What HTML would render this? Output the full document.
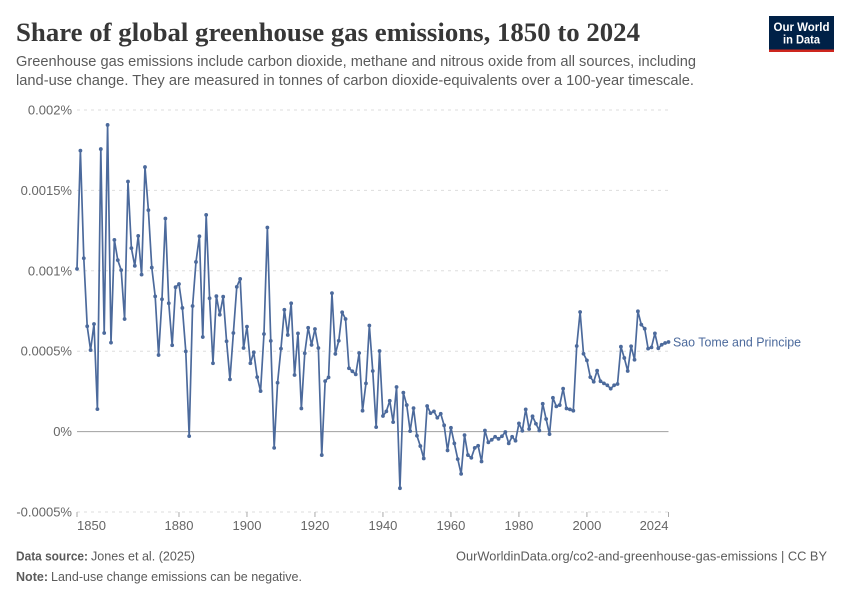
<!DOCTYPE html>
<html lang="en">
<head>
<meta charset="utf-8">
<title>Share of global greenhouse gas emissions, 1850 to 2024</title>
<style>
html,body{margin:0;padding:0;background:#fff;}
svg{display:block;font-family:"Liberation Sans",sans-serif;}
</style>
</head>
<body>
<svg id="chart" xmlns="http://www.w3.org/2000/svg" width="850" height="600" viewBox="0 0 850 600">
  <rect x="0" y="0" width="850" height="600" fill="#fff"/>
  <text x="16" y="41" font-family="'Liberation Serif',serif" font-weight="700" font-size="26" fill="#373737" textLength="624" lengthAdjust="spacingAndGlyphs">Share of global greenhouse gas emissions, 1850 to 2024</text>
  <text x="16" y="66" font-size="14.5" fill="#5b5b5b" textLength="680" lengthAdjust="spacingAndGlyphs">Greenhouse gas emissions include carbon dioxide, methane and nitrous oxide from all sources, including</text>
  <text x="16" y="85" font-size="14.5" fill="#5b5b5b" textLength="678" lengthAdjust="spacingAndGlyphs">land-use change. They are measured in tonnes of carbon dioxide-equivalents over a 100-year timescale.</text>

  <g>
    <rect x="769" y="16" width="65" height="36" fill="#002147"/>
    <rect x="769" y="49.5" width="65" height="2.5" fill="#ce261e"/>
    <text x="801.5" y="31" text-anchor="middle" font-size="12" font-weight="700" fill="#fff" textLength="56" lengthAdjust="spacingAndGlyphs">Our World</text>
    <text x="801.5" y="43.5" text-anchor="middle" font-size="12" font-weight="700" fill="#fff" textLength="37" lengthAdjust="spacingAndGlyphs">in Data</text>
  </g>

  <g id="grid"></g>
  <g id="yLabels"></g>
  <g id="xAxis"></g>
  <g id="series"></g>
  <text id="seriesLabel" x="673" y="347" font-size="13" fill="#4c6a9c" textLength="128" lengthAdjust="spacingAndGlyphs">Sao Tome and Principe</text>

  <text x="16" y="560.5" font-size="13" font-weight="700" fill="#5b5b5b" textLength="72" lengthAdjust="spacingAndGlyphs">Data source:</text>
  <text x="91" y="560.5" font-size="13" fill="#5b5b5b" textLength="104" lengthAdjust="spacingAndGlyphs">Jones et al. (2025)</text>
  <text x="456" y="560.5" font-size="13" fill="#5b5b5b" textLength="371" lengthAdjust="spacingAndGlyphs">OurWorldinData.org/co2-and-greenhouse-gas-emissions | CC BY</text>
  <text x="16" y="581" font-size="13" font-weight="700" fill="#5b5b5b" textLength="32" lengthAdjust="spacingAndGlyphs">Note:</text>
  <text x="51" y="581" font-size="13" fill="#5b5b5b" textLength="251" lengthAdjust="spacingAndGlyphs">Land-use change emissions can be negative.</text>
</svg>
<script>
const firstYear = 1850;
const seriesName = "Sao Tome and Principe";
const shareValues = [
0.001012,0.001747,0.001078,0.000655,0.000507,0.000669,0.000140,0.001757,0.000613,0.001907,
0.000553,0.001192,0.001066,0.001004,0.000700,0.001555,0.001141,0.001031,0.001217,0.000976,
0.001645,0.001377,0.001020,0.000841,0.000476,0.000823,0.001325,0.000798,0.000537,0.000898,
0.000918,0.000769,0.000499,-0.000028,0.000781,0.001055,0.001215,0.000588,0.001348,0.000829,
0.000425,0.000842,0.000727,0.000839,0.000562,0.000325,0.000613,0.000900,0.000950,0.000520,
0.000653,0.000425,0.000493,0.000339,0.000252,0.000607,0.001269,0.000564,-0.000101,0.000304,
0.000516,0.000758,0.000601,0.000798,0.000352,0.000611,0.000144,0.000487,0.000646,0.000539,
0.000638,0.000520,-0.000146,0.000314,0.000337,0.000861,0.000483,0.000565,0.000742,0.000700,
0.000394,0.000375,0.000356,0.000489,0.000130,0.000300,0.000660,0.000377,0.000028,0.000501,
0.000097,0.000126,0.000192,0.000059,0.000277,-0.000352,0.000242,0.000165,0.000003,0.000146,
-0.000026,-0.000090,-0.000167,0.000159,0.000115,0.000126,0.000086,0.000111,0.000039,-0.000117,
0.000024,-0.000073,-0.000171,-0.000263,-0.000022,-0.000146,-0.000163,-0.000101,-0.000088,-0.000186,
0.000007,-0.000067,-0.000051,-0.000032,-0.000045,-0.000029,-0.000003,-0.000073,-0.000032,-0.000057,
0.000051,0.000005,0.000138,0.000016,0.000095,0.000049,0.000007,0.000173,0.000078,-0.000016,
0.000210,0.000157,0.000165,0.000267,0.000144,0.000138,0.000130,0.000532,0.000744,0.000484,
0.000443,0.000339,0.000310,0.000379,0.000313,0.000300,0.000288,0.000267,0.000288,0.000296,
0.000528,0.000458,0.000377,0.000531,0.000447,0.000748,0.000665,0.000640,0.000516,0.000524,
0.000611,0.000518,0.000540,0.000551,0.000557
];
const yTickValues = [-0.0005, 0, 0.0005, 0.001, 0.0015, 0.002];
const yTickLabels = ["-0.0005%", "0%", "0.0005%", "0.001%", "0.0015%", "0.002%"];
const xTickYears = [1850, 1880, 1900, 1920, 1940, 1960, 1980, 2000, 2024];

const NS = "http://www.w3.org/2000/svg";
const plot = { left: 77, right: 668.5, top: 110, bottom: 512 };
const yMin = yTickValues[0];
const yMax = yTickValues[yTickValues.length - 1];

function xScale(year) {
  return plot.left + (year - firstYear) / (2024 - firstYear) * (plot.right - plot.left);
}
function yScale(value) {
  return plot.bottom - (value - yMin) / (yMax - yMin) * (plot.bottom - plot.top);
}
function make(tag, attrs, parent, text) {
  const el = document.createElementNS(NS, tag);
  for (const k in attrs) el.setAttribute(k, attrs[k]);
  if (text !== undefined) el.textContent = text;
  parent.appendChild(el);
  return el;
}

const gridGroup = document.getElementById("grid");
const yLabelGroup = document.getElementById("yLabels");
const xAxisGroup = document.getElementById("xAxis");
const seriesGroup = document.getElementById("series");

yTickValues.forEach(function (v, i) {
  const y = yScale(v);
  const isZero = v === 0;
  const line = make("line", {
    x1: plot.left, x2: plot.right, y1: y, y2: y,
    stroke: isZero ? "#a1a1a1" : "#dddddd",
    "stroke-width": 1,
    "stroke-dasharray": isZero ? "none" : "3,4"
  }, gridGroup);
  
  
  const label = make("text", {
    x: 72, y: y + 4.5, "text-anchor": "end", "font-size": 13, fill: "#666666"
  }, yLabelGroup, yTickLabels[i]);
  
  
});

xTickYears.forEach(function (year, i) {
  const x = xScale(year);
  const tick = make("line", {
    x1: x, x2: x, y1: plot.bottom, y2: plot.bottom + 5, stroke: "#aaaaaa", "stroke-width": 1
  }, xAxisGroup);
  
  
  let anchor = "middle";
  if (i === 0) anchor = "start";
  if (i === xTickYears.length - 1) anchor = "end";
  const label = make("text", {
    x: x, y: plot.bottom + 18, "text-anchor": anchor, "font-size": 13, fill: "#666666"
  }, xAxisGroup, String(year));
  
  
});

const pointList = shareValues.map(function (v, i) {
  return xScale(firstYear + i).toFixed(2) + "," + yScale(v).toFixed(2);
}).join(" ");
const seriesLine = make("polyline", {
  points: pointList, fill: "none", stroke: "#4c6a9c", "stroke-width": 1.7, "stroke-linejoin": "round"
}, seriesGroup);



shareValues.forEach(function (v, i) {
  const dot = make("circle", {
    cx: xScale(firstYear + i), cy: yScale(v), r: 1.9, fill: "#4c6a9c"
  }, seriesGroup);
  
  
});

const seriesLabelEl = document.getElementById("seriesLabel");
seriesLabelEl.textContent = seriesName;
seriesLabelEl.setAttribute("y", (yScale(shareValues[shareValues.length - 1]) + 4.7).toFixed(1));
</script>
</body>
</html>
